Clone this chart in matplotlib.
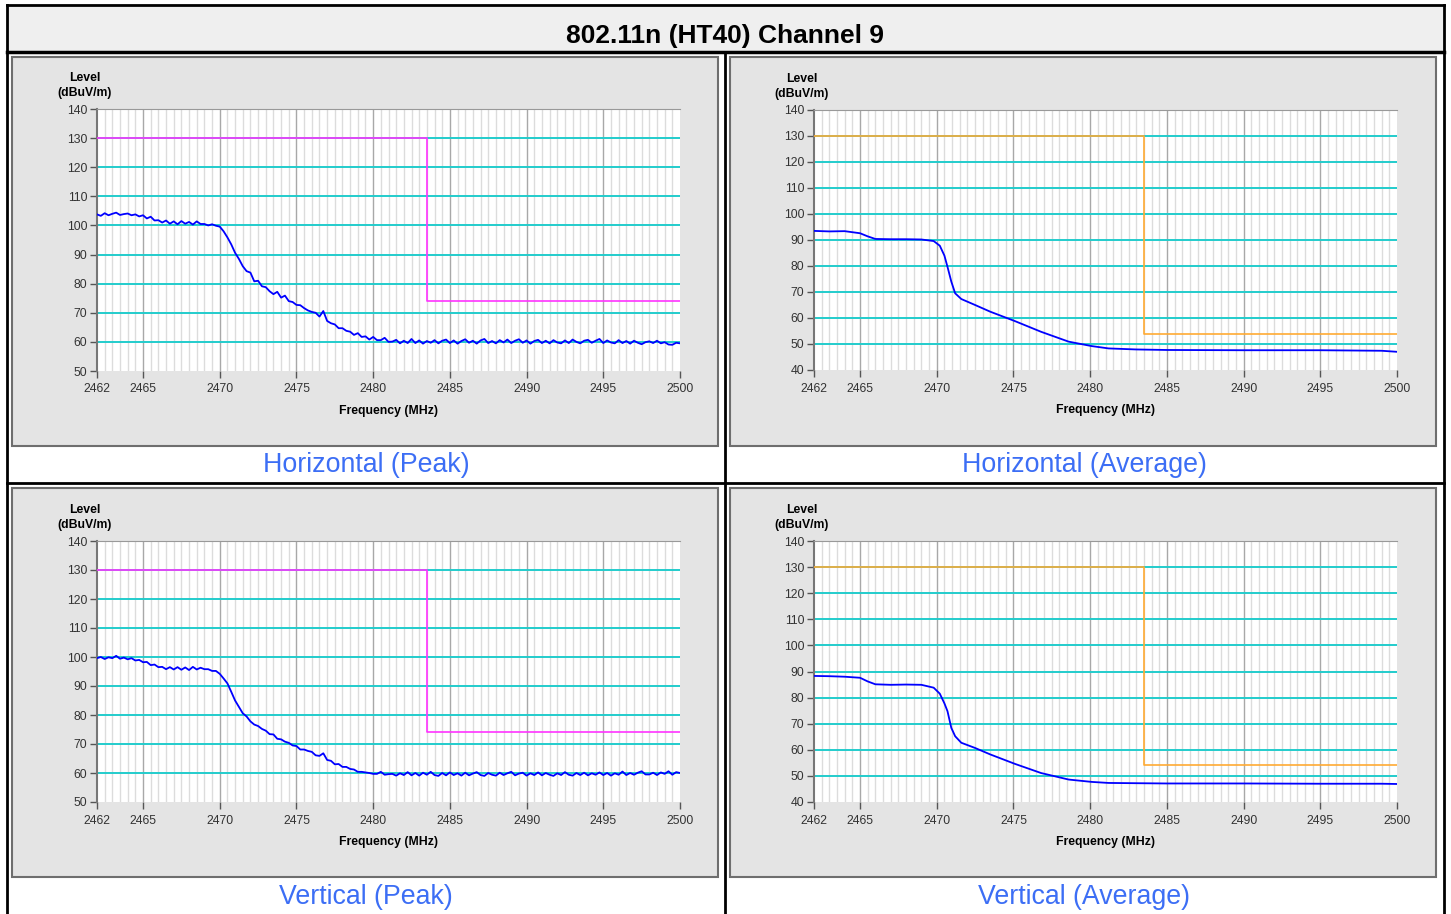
import numpy as np
import matplotlib
matplotlib.use("Agg")
import matplotlib.pyplot as plt
from matplotlib.patches import Rectangle

plt.rcParams["font.family"] = ["Liberation Sans", "DejaVu Sans"]

TITLE = "802.11n (HT40) Channel 9"
CAPTIONS = ["Horizontal (Peak)", "Horizontal (Average)", "Vertical (Peak)", "Vertical (Average)"]

# peak sweeps, sampled every 0.25 MHz from 2462 to 2500 MHz
peak_freq = np.arange(2462, 2500.01, 0.25)

horiz_peak = [
    103.8, 103.3, 104.2, 103.5, 104.0, 104.4, 103.6, 103.9,
    104.1, 103.5, 103.8, 103.1, 103.5, 102.4, 103.0, 101.7,
    101.8, 101.0, 101.7, 100.6, 101.4, 100.4, 101.5, 100.6,
    101.2, 100.3, 101.4, 100.5, 100.5, 100.0, 100.4, 99.9,
    99.6, 98.0, 95.9, 93.5, 90.6, 88.5, 86.0, 84.3,
    83.8, 80.8, 81.0, 79.1, 78.8, 77.4, 76.4, 77.2,
    75.2, 75.9, 74.0, 73.7, 72.7, 72.6, 71.6, 70.8,
    70.3, 70.0, 68.7, 70.6, 67.2, 66.4, 66.0, 64.7,
    64.7, 63.8, 63.5, 62.4, 63.0, 61.7, 61.9, 60.8,
    61.7, 60.6, 60.6, 61.4, 60.0, 60.1, 60.7, 59.5,
    60.4, 59.6, 61.0, 59.6, 60.5, 59.4, 60.3, 59.7,
    60.6, 59.5, 60.4, 60.8, 59.6, 60.5, 59.4, 60.3,
    60.9, 59.7, 60.4, 59.4, 60.5, 61.0, 59.6, 60.3,
    59.5, 60.6, 59.8, 60.8, 59.6, 60.4, 60.9, 59.7,
    60.5, 59.4, 60.3, 60.7, 59.6, 60.4, 59.5, 60.6,
    59.8, 59.5, 60.5, 59.6, 60.8, 60.0, 59.5, 60.4,
    60.7, 59.7, 60.4, 61.0, 59.6, 60.5, 59.8, 59.5,
    60.6, 59.6, 60.3, 59.4, 60.4, 59.7, 59.2, 59.9,
    60.2, 59.6, 60.4, 59.5, 59.9, 59.1, 59.0, 59.7,
    59.5,
]

vert_peak = [
    99.6, 100.0, 99.3, 99.9, 99.6, 100.4, 99.4, 99.8,
    99.2, 99.6, 98.8, 99.0, 98.2, 98.3, 97.2, 97.4,
    96.5, 96.6, 95.8, 96.5, 95.7, 96.5, 95.6, 96.4,
    95.5, 96.6, 95.7, 96.3, 95.8, 95.8, 95.2, 95.2,
    94.2, 92.6, 90.9, 88.0, 85.0, 82.8, 80.6, 79.5,
    77.8, 76.7, 76.2, 75.2, 74.6, 73.4, 73.3, 71.8,
    71.6, 70.8, 70.4, 69.5, 69.3, 68.1, 68.1, 67.6,
    67.3, 66.1, 65.9, 66.8, 64.5, 64.2, 63.0, 63.1,
    62.1, 62.1, 61.4, 61.2, 60.4, 60.4, 60.2, 60.0,
    59.7, 59.7, 60.4, 59.4, 59.6, 59.7, 59.1, 59.9,
    59.3, 60.3, 59.2, 60.0, 59.1, 60.1, 59.4, 60.4,
    59.3, 59.0, 60.0, 59.2, 60.2, 59.3, 59.9, 59.1,
    60.1, 59.2, 59.8, 60.3, 59.3, 59.0, 60.0, 59.4,
    59.1, 60.1, 59.3, 59.9, 60.4, 59.2, 59.8, 60.1,
    59.1, 59.9, 59.3, 60.2, 59.2, 60.0, 59.4, 59.0,
    59.9, 59.3, 60.3, 59.4, 59.1, 60.0, 59.3, 60.1,
    59.2, 59.9, 59.4, 60.2, 59.3, 60.0, 59.1, 59.9,
    59.4, 60.5, 59.3, 60.0, 59.4, 60.1, 60.6, 59.5,
    59.5, 60.1, 59.3, 60.2, 59.7, 60.6, 59.4, 60.3,
    60.0,
]

# average sweeps are smooth, so a set of read-off points is enough
avg_freq = [2462, 2463, 2464, 2465, 2465.5, 2466, 2467, 2468, 2469, 2469.8,
            2470.2, 2470.5, 2470.7, 2470.95, 2471.2, 2471.6, 2472.5, 2473.5,
            2475.1, 2476.8, 2478.6, 2480.1, 2481.2, 2483, 2485, 2490, 2495,
            2499, 2500]
horiz_avg = [93.5, 93.3, 93.4, 92.6, 91.4, 90.4, 90.3, 90.3, 90.2, 89.6,
             87.8, 84.0, 79.7, 74.0, 69.5, 67.3, 65.0, 62.4,
             58.8, 54.7, 50.9, 49.2, 48.3, 47.9, 47.7, 47.6, 47.6,
             47.4, 47.0]
vert_avg = [88.3, 88.2, 88.0, 87.6, 86.2, 85.1, 84.9, 85.0, 84.9, 83.8,
            81.5, 77.8, 74.8, 68.4, 65.2, 62.7, 60.7, 58.2,
            54.6, 51.1, 48.6, 47.7, 47.3, 47.2, 47.1, 47.1, 47.0,
            47.0, 46.9]

# limit lines (restricted band edge at 2483.5 MHz)
limit_freq = [2462, 2483.5, 2483.5, 2500]
peak_limit = [130, 130, 74, 74]
avg_limit = [130, 130, 54, 54]

freq_ticks = [2462, 2465, 2470, 2475, 2480, 2485, 2490, 2495, 2500]

W, H = 1451, 914
fig = plt.figure(figsize=(W / 100, H / 100), dpi=100)

# page-level drawing in pixel coordinates
bg = fig.add_axes([0, 0, 1, 1])
bg.set_xlim(0, W)
bg.set_ylim(H, 0)
bg.axis("off")

bg.add_patch(Rectangle((7, 5), 1437, 46, facecolor="#efefef", edgecolor="none"))
bg.plot([7, 1444], [5, 5], color="black", lw=2)
bg.plot([7, 7], [5, H], color="black", lw=2)
bg.plot([1444, 1444], [5, H], color="black", lw=2)
bg.plot([7, 1444], [51.5, 51.5], color="black", lw=2.5)
bg.plot([7, 1444], [483, 483], color="black", lw=2)
bg.plot([724.5, 724.5], [51.5, H], color="black", lw=2)
bg.text(725, 36, TITLE, ha="center", va="center", fontsize=19, fontweight="bold")

panels = [(12, 57), (730, 57), (12, 488), (730, 488)]
caption_y = [465, 465, 897, 897]
for (px, py), cap, cy in zip(panels, CAPTIONS, caption_y):
    bg.add_patch(Rectangle((px, py), 706, 389, facecolor="#e4e4e4",
                           edgecolor="#6e6e6e", lw=1.5))
    bg.text(px + 354, cy, cap, ha="center", va="center", fontsize=19.3, color="#3c6ef5")

charts = [
    (97, 109, 680, 371, 50, horiz_peak, "peak"),
    (814, 110, 1397, 370, 40, horiz_avg, "avg"),
    (97, 541, 680, 802, 50, vert_peak, "peak"),
    (814, 541, 1397, 802, 40, vert_avg, "avg"),
]

for x0, y0, x1, y1, ymin, levels, kind in charts:
    ax = fig.add_axes([x0 / W, 1 - y1 / H, (x1 - x0) / W, (y1 - y0) / H])
    ax.set_xlim(2462, 2500)
    ax.set_ylim(ymin, 140)
    ax.set_facecolor("white")

    for f in np.arange(2462.5, 2500, 0.5):
        major = abs(f - round(f / 5) * 5) < 1e-6
        ax.axvline(f, color="#a8a8a8" if major else "#dcdcdc", lw=1, zorder=1)
    for v in range(ymin + 10, 140, 10):
        ax.axhline(v, color="#22cccc", lw=1.4, zorder=2)

    if kind == "peak":
        ax.plot(limit_freq, peak_limit, color="#ff33ff", lw=1.2, zorder=3)
        ax.plot(peak_freq, levels, color="#0000ff", lw=1.3, zorder=4)
    else:
        ax.plot(limit_freq, avg_limit, color="#ffaa33", lw=1.2, zorder=3)
        ax.plot(avg_freq, levels, color="#0000ff", lw=1.3, zorder=4)

    ax.set_xticks(freq_ticks)
    ax.set_yticks(range(ymin, 141, 10))
    ax.tick_params(axis="both", direction="out", length=5, width=1, color="#555555",
                   labelsize=8.8, labelcolor="#333333", pad=2)
    ax.tick_params(axis="x", pad=4)
    for side in ("right", "bottom"):
        ax.spines[side].set_visible(False)
    ax.spines["left"].set_color("#777777")
    ax.spines["left"].set_linewidth(1.5)
    ax.spines["top"].set_color("#999999")

    ax.set_xlabel("Frequency (MHz)", fontsize=8.8, fontweight="bold", labelpad=7)
    cx = x0 - 12
    bg.text(cx, y0 - 31, "Level", ha="center", va="center", fontsize=8.8, fontweight="bold")
    bg.text(cx, y0 - 16, "(dBuV/m)", ha="center", va="center", fontsize=8.8, fontweight="bold")

fig.savefig("out.png", dpi=100)
